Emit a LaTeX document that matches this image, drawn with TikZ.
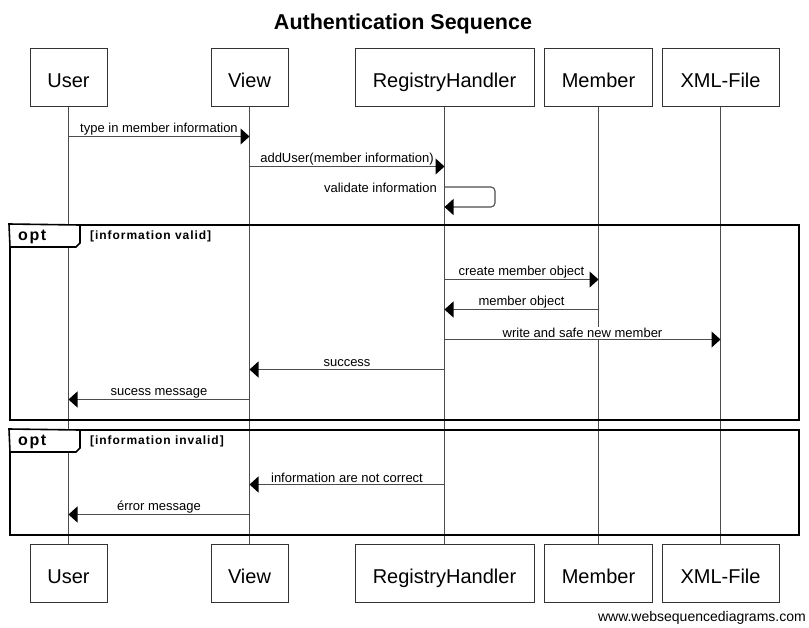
\documentclass[tikz,border=0pt]{standalone}
\usepackage{fontspec}
\setmainfont{Liberation Sans}
\newfontfamily\condfont[LetterSpace=8]{Liberation Sans}
\newfontfamily\optfont[LetterSpace=10]{Liberation Sans}
\usetikzlibrary{arrows.meta}
\tikzset{
  actor/.style={draw=black!80, line width=1pt, fill=white, minimum height=58pt, inner sep=0pt, text height=20pt, text depth=0pt, font=\fontsize{20}{24}\selectfont},
  life/.style={draw=black!70, line width=1.1pt},
  msg/.style={draw=black!70, line width=1.1pt, -{Triangle[length=9pt,width=16pt,color=black]}},
  lbl/.style={fill=white, inner sep=1pt, font=\fontsize{13}{15}\selectfont},
  frame/.style={draw=black, line width=2pt},
  tab/.style={draw=black, line width=1.6pt, fill=white},
  optlbl/.style={font=\optfont\bfseries\fontsize{16}{18}\selectfont, inner sep=0pt, anchor=west},
  condlbl/.style={font=\condfont\bfseries\fontsize{12}{14}\selectfont, inner sep=0pt, anchor=west}
}
\begin{document}
\begin{tikzpicture}[x=1pt,y=-1pt]
\useasboundingbox (0,0) rectangle (809,627);
\node[font=\bfseries\fontsize{21.5}{24}\selectfont] (title) at (403,23.5) {Authentication Sequence};
% actors top
\node[actor, minimum width=77pt] (uT) at (68.5,77) {User};
\node[actor, minimum width=77pt] (vT) at (249.5,77) {View};
\node[actor, minimum width=179pt] (rT) at (444.5,77) {RegistryHandler};
\node[actor, minimum width=108pt] (mT) at (598.5,77) {Member};
\node[actor, minimum width=117pt] (xT) at (720.5,77) {XML-File};
% actors bottom
\node[actor, minimum width=77pt] (uB) at (68.5,573.5) {User};
\node[actor, minimum width=77pt] (vB) at (249.5,573.5) {View};
\node[actor, minimum width=179pt] (rB) at (444.5,573.5) {RegistryHandler};
\node[actor, minimum width=108pt] (mB) at (598.5,573.5) {Member};
\node[actor, minimum width=117pt] (xB) at (720.5,573.5) {XML-File};
% lifelines
\draw[life] (uT) -- (uB);
\draw[life] (vT) -- (vB);
\draw[life] (rT) -- (rB);
\draw[life] (mT) -- (mB);
\draw[life] (xT) -- (xB);
% messages
\draw[msg] (uT |- 0,136.5) -- node[lbl, above] {type in member information} (vT |- 0,136.5);
\draw[msg] (vT |- 0,166.5) -- node[lbl, above] {addUser(member information)} (rT |- 0,166.5);
\coordinate (loopR) at (495,187);
\node[lbl, anchor=east] (vlbl) at (438,187.5) {validate information};
\draw[msg, rounded corners=4pt] (rT |- 0,187) -- (loopR) -- (495,207) -- (rT |- 0,207);
% frame 1
\node[frame, draw, minimum width=789pt, minimum height=195pt, inner sep=0pt] (f1) at (404.5,322.5) {};
\draw[tab] (f1.north west) -- (80,225) -- (80,243) -- (76,247) -- (10,247) -- cycle;
\node[optlbl] (o1) at (18,237) {opt};
\node[condlbl] (c1) at (90,236) {[information valid]};
\draw[msg] (rT |- 0,279.5) -- node[lbl, above] {create member object} (mT |- 0,279.5);
\draw[msg] (mT |- 0,309.5) -- node[lbl, above] {member object} (rT |- 0,309.5);
\draw[msg] (rT |- 0,339.5) -- node[lbl, above] {write and safe new member} (xT |- 0,339.5);
\draw[msg] (rT |- 0,369.5) -- node[lbl, above, yshift=1pt] {success} (vT |- 0,369.5);
\draw[msg] (vT |- 0,399.5) -- node[lbl, above] {sucess message} (uT |- 0,399.5);
% frame 2
\node[frame, draw, minimum width=789pt, minimum height=105pt, inner sep=0pt] (f2) at (404.5,482.5) {};
\draw[tab] (f2.north west) -- (80,430) -- (80,448) -- (76,452) -- (10,452) -- cycle;
\node[optlbl] (o2) at (18,442) {opt};
\node[condlbl] (c2) at (90,441) {[information invalid]};
\draw[msg] (rT |- 0,484.5) -- node[lbl, above] {information are not correct} (vT |- 0,484.5);
\draw[msg] (vT |- 0,514.5) -- node[lbl, above] {érror message} (uT |- 0,514.5);
% footer
\node[font=\fontsize{14}{16}\selectfont, anchor=east, inner sep=0pt] (foot) at (806,618) {www.websequencediagrams.com};
\end{tikzpicture}
\end{document}
